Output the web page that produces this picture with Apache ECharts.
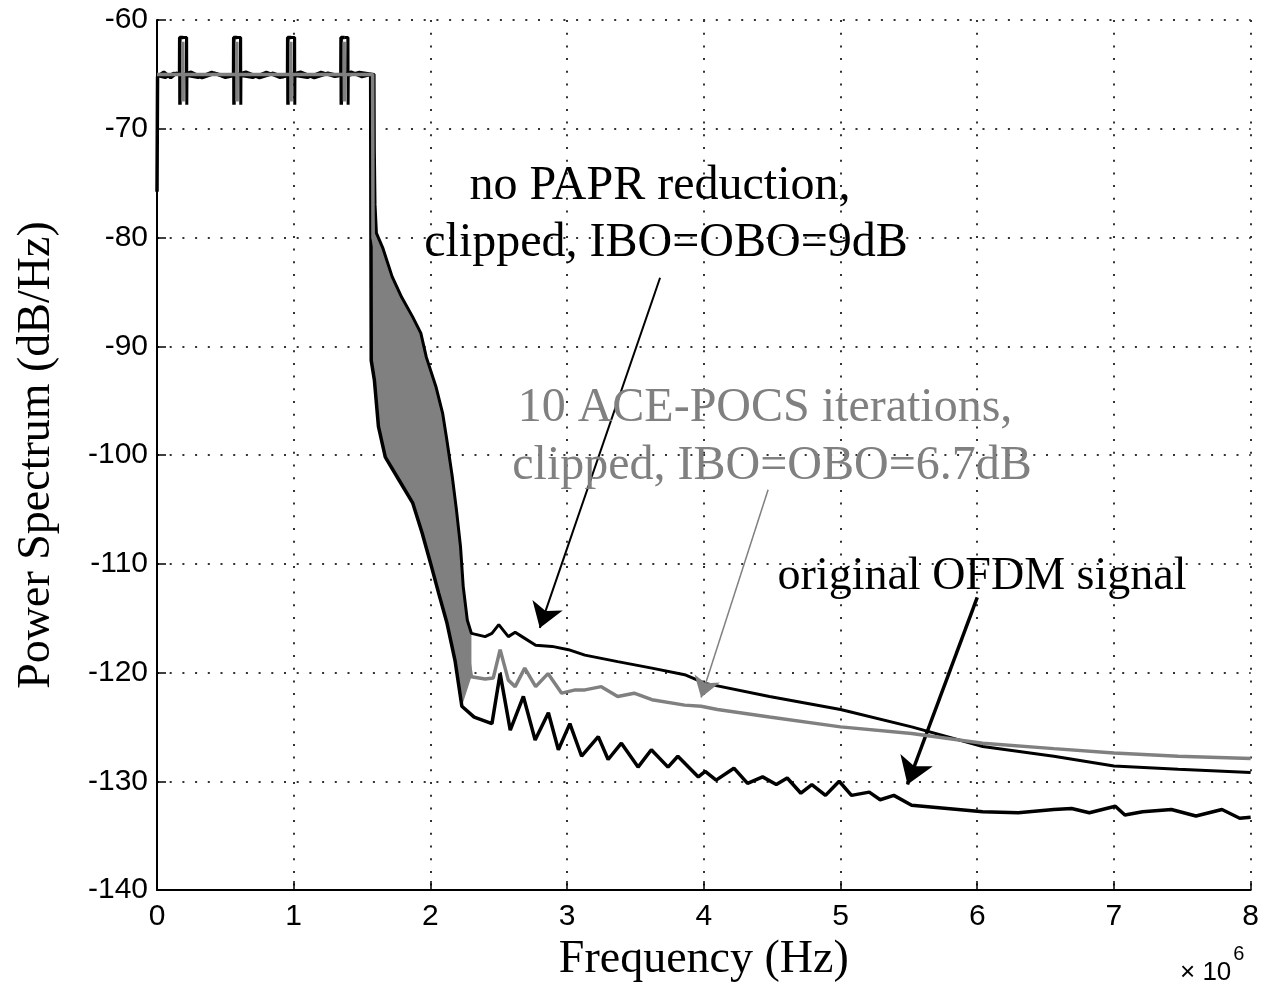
<!DOCTYPE html>
<html><head><meta charset="utf-8">
<script src="https://cdn.jsdelivr.net/npm/echarts@6/dist/echarts.min.js"></script>
<style>html,body{margin:0;padding:0;background:#fff}#c{width:1262px;height:988px}</style>
</head><body><div id="c"></div><script>
// x in units of 1e6 Hz, y in dB/Hz
const xTicks = [0,1,2,3,4,5,6,7,8];
const yTicks = [-140,-130,-120,-110,-100,-90,-80,-70,-60];

const originalOFDM = [
  [0,-75.8],[0.004,-65.2],[0.05,-64.8],[0.1,-65.3],[0.14,-64.9],
  [0.165,-65.0],[0.166,-61.6],[0.192,-61.6],[0.167,-61.6],[0.168,-67.8],[0.169,-65.1],
  [0.25,-64.8],[0.33,-65.3],[0.42,-64.9],[0.5,-65.2],
  [0.56,-65.0],[0.561,-61.6],[0.587,-61.6],[0.562,-61.6],[0.563,-67.8],[0.564,-65.1],
  [0.65,-64.8],[0.75,-65.3],[0.85,-64.9],[0.92,-65.2],
  [0.955,-65.0],[0.956,-61.6],[0.982,-61.6],[0.957,-61.6],[0.958,-67.8],[0.959,-65.1],
  [1.05,-64.8],[1.15,-65.3],[1.25,-64.9],[1.32,-65.1],
  [1.345,-65.0],[1.346,-61.6],[1.372,-61.6],[1.347,-61.6],[1.348,-67.8],[1.349,-65.1],
  [1.42,-64.8],[1.5,-65.2],[1.563,-65.0],
  [1.565,-80.0],[1.567,-91.3],[1.59,-93.1],[1.62,-97.4],[1.67,-100.2],[1.77,-102.3],
  [1.87,-104.4],[1.94,-107.2],[2.0,-109.9],[2.06,-112.7],[2.12,-115.4],[2.18,-118.9],
  [2.23,-123.1],[2.32,-124.1],[2.45,-124.7],[2.51,-120.1],[2.584,-125.3],[2.68,-122.2],
  [2.766,-126.2],[2.863,-123.7],[2.936,-127.1],[3.02,-124.7],[3.106,-127.7],[3.228,-125.9],
  [3.30,-128.0],[3.397,-126.5],[3.519,-128.7],[3.616,-127.1],[3.738,-128.7],[3.81,-127.7],
  [3.96,-129.6],[4.01,-129.1],[4.09,-129.9],[4.22,-128.8],[4.32,-130.2],[4.43,-129.6],
  [4.53,-130.3],[4.61,-129.7],[4.71,-131.1],[4.79,-130.3],[4.89,-131.3],[4.99,-130.0],
  [5.08,-131.3],[5.21,-131.0],[5.29,-131.7],[5.39,-131.3],[5.52,-132.2],[5.78,-132.5],
  [6.04,-132.8],[6.30,-132.9],[6.56,-132.6],[6.69,-132.5],[6.82,-132.9],[7.01,-132.3],
  [7.08,-133.1],[7.21,-132.8],[7.42,-132.6],[7.6,-133.2],[7.79,-132.6],[7.92,-133.4],[8.0,-133.3]
];

const noPAPRClipped = [
  [0,-65.1],[0.06,-65.3],[0.12,-64.9],
  [0.215,-65.0],[0.216,-61.6],[0.19,-61.6],[0.217,-61.6],[0.218,-67.8],[0.219,-65.1],
  [0.3,-65.3],[0.4,-64.8],[0.5,-65.3],
  [0.61,-65.0],[0.611,-61.6],[0.585,-61.6],[0.612,-61.6],[0.613,-67.8],[0.614,-65.1],
  [0.7,-65.3],[0.8,-64.8],[0.9,-65.3],
  [1.005,-65.0],[1.006,-61.6],[0.98,-61.6],[1.007,-61.6],[1.008,-67.8],[1.009,-65.1],
  [1.1,-65.3],[1.2,-64.8],[1.3,-65.2],
  [1.395,-65.0],[1.396,-61.6],[1.37,-61.6],[1.397,-61.6],[1.398,-67.8],[1.399,-65.1],
  [1.48,-64.8],[1.588,-65.0],
  [1.59,-72.0],[1.595,-77.0],[1.605,-79.6],[1.65,-80.9],[1.72,-83.6],[1.79,-85.5],
  [1.87,-87.3],[1.93,-88.8],[1.97,-91.0],[2.04,-93.7],[2.09,-96.2],[2.12,-98.6],
  [2.16,-102.0],[2.19,-105.0],[2.22,-108.4],[2.24,-112.1],[2.27,-115.2],[2.30,-116.4],
  [2.40,-116.7],[2.45,-116.4],[2.50,-115.6],[2.57,-116.7],[2.62,-116.3],[2.67,-116.7],
  [2.77,-117.5],[2.89,-117.6],[3.01,-117.9],[3.13,-118.4],[3.37,-119.0],[3.62,-119.6],
  [3.86,-120.2],[4.01,-121.0],[4.48,-122.2],[5.0,-123.4],[5.52,-125.0],[6.04,-126.8],
  [6.56,-127.7],[7.0,-128.6],[7.47,-128.9],[8.0,-129.2]
];

const acePocsClipped = [
  [0,-65.0],[0.1,-65.0],
  [0.188,-65.0],[0.189,-62.0],[0.191,-67.5],[0.192,-65.0],
  [0.3,-65.0],[0.45,-65.0],
  [0.583,-65.0],[0.584,-62.0],[0.586,-67.5],[0.587,-65.0],
  [0.75,-65.0],[0.9,-65.0],
  [0.978,-65.0],[0.979,-62.0],[0.981,-67.5],[0.982,-65.0],
  [1.15,-65.0],[1.3,-65.0],
  [1.368,-65.0],[1.369,-62.0],[1.371,-67.5],[1.372,-65.0],
  [1.5,-65.0],[1.5775,-65.0],
  [1.58,-80.0],[1.7,-88.0],[1.85,-95.0],[2.0,-103.0],[2.12,-110.0],[2.22,-115.0],
  [2.27,-118.0],[2.30,-120.4],[2.40,-120.6],[2.46,-120.5],[2.51,-117.9],[2.57,-120.7],
  [2.62,-121.3],[2.69,-119.6],[2.77,-121.3],[2.86,-120.1],[2.96,-121.9],[3.06,-121.6],
  [3.13,-121.6],[3.25,-121.3],[3.37,-122.2],[3.49,-121.9],[3.62,-122.5],[3.86,-123.0],
  [3.98,-123.1],[4.1,-123.4],[4.48,-124.1],[5.0,-125.0],[5.52,-125.6],[6.04,-126.5],
  [6.56,-127.0],[7.0,-127.4],[7.47,-127.7],[8.0,-127.9]
];

// annotation texts and arrows (arrow ends in data units)
const noteNoPAPR = ['no PAPR reduction,', 'clipped, IBO=OBO=9dB'];
const noteACE = ['10 ACE-POCS iterations,', 'clipped, IBO=OBO=6.7dB'];
const noteOrig = ['original OFDM signal'];
const arrowNoPAPR = [[3.68,-83.7],[2.80,-115.9]];
const arrowACE = [[4.47,-103.2],[3.98,-122.3]];
const arrowOrig = [[6.0,-113.1],[5.49,-130.3]];

const bandUpper = noPAPRClipped.filter(p => p[0] >= 1.585 && p[0] <= 2.30)
  .concat(acePocsClipped.filter(p => p[0] > 2.27 && p[0] <= 2.30));
const bandLower = originalOFDM.filter(p => p[0] >= 1.563 && p[0] <= 2.23);
const bandOutline = bandUpper.concat(bandLower.slice().reverse());

const chart = echarts.init(document.getElementById('c'), null, {renderer:'canvas'});
const GRAY = '#808080';
const serif = '"Liberation Serif", "Times New Roman", serif';
const sans = '"Liberation Sans", Arial, sans-serif';
const dotted = {type:[2,10.7], color:'#333', width:2};

function txt(x, y, s, color, size) {
  return {type:'text', x:x, y:y, silent:true, z:50,
    style:{text:s, fill:color, font:size + 'px ' + serif, textAlign:'center', textVerticalAlign:'middle'}};
}

chart.setOption({
  animation:false,
  backgroundColor:'#fff',
  grid:{left:157, right:7, top:20, bottom:98, containLabel:false},
  xAxis:{
    type:'value', min:0, max:8, interval:1,
    name:'Frequency (Hz)', nameLocation:'middle', nameGap:44,
    nameTextStyle:{fontFamily:serif, fontSize:46, color:'#000'},
    axisLine:{show:true, onZero:false, lineStyle:{color:'#000', width:2}},
    axisTick:{show:true, inside:true, length:9, lineStyle:{color:'#000', width:1.5}},
    axisLabel:{color:'#000', fontFamily:sans, fontSize:30, margin:12,
      formatter: v => xTicks.includes(v) ? String(v) : ''},
    splitLine:{show:true, lineStyle:dotted}
  },
  yAxis:{
    type:'value', min:-140, max:-60, interval:10,
    name:'Power Spectrum (dB/Hz)', nameLocation:'middle', nameGap:97,
    nameTextStyle:{fontFamily:serif, fontSize:46, color:'#000'},
    axisLine:{show:true, onZero:false, lineStyle:{color:'#000', width:2}},
    axisTick:{show:true, inside:true, length:9, lineStyle:{color:'#000', width:1.5}},
    axisLabel:{color:'#000', fontFamily:sans, fontSize:30, margin:9,
      formatter: v => yTicks.includes(v) ? String(v) : ''},
    splitLine:{show:true, lineStyle:dotted}
  },
  graphic:[
    txt(660,186,noteNoPAPR[0],'#000',48), txt(666,243,noteNoPAPR[1],'#000',48),
    txt(765,408,noteACE[0],GRAY,48), txt(772,466,noteACE[1],GRAY,48),
    txt(982,577,noteOrig[0],'#000',46),
    {type:'text', x:1180, y:986, silent:true,
      style:{text:'{a|× 10}{b|6}', textVerticalAlign:'bottom',
        rich:{a:{font:'26px ' + sans, fill:'#000', verticalAlign:'bottom'},
              b:{font:'20px ' + sans, fill:'#000', verticalAlign:'top', padding:[0,0,22,2]}}}}
  ],
  series:[
    {type:'custom', silent:true, z:1, clip:true,
      renderItem:function(params, api){
        const pts = bandOutline.map(p => api.coord([p[0], p[1]]));
        return {type:'polygon', shape:{points:pts}, style:{fill:GRAY, stroke:null}};
      },
      data:[[2,-100]]
    },
    {type:'line', name:'original', data:originalOFDM, showSymbol:false, z:3,
      lineStyle:{color:'#000', width:3.5}, clip:true,
      markLine:{silent:true, symbol:['none','arrow'], label:{show:false}, animation:false,
        data:[
          [{coord:arrowNoPAPR[0], symbolSize:0, lineStyle:{color:'#000', width:2, type:'solid'}},
           {coord:arrowNoPAPR[1], symbolSize:24}],
          [{coord:arrowACE[0], symbolSize:0, lineStyle:{color:GRAY, width:1.5, type:'solid'}},
           {coord:arrowACE[1], symbolSize:20}],
          [{coord:arrowOrig[0], symbolSize:0, lineStyle:{color:'#000', width:3.5, type:'solid'}},
           {coord:arrowOrig[1], symbolSize:26}]
        ]}
    },
    {type:'line', name:'noPAPR', data:noPAPRClipped, showSymbol:false, z:4,
      lineStyle:{color:'#000', width:3}, clip:true},
    {type:'line', name:'ACE', data:acePocsClipped, showSymbol:false, z:5,
      lineStyle:{color:GRAY, width:3.5}, clip:true}
  ]
});
</script></body></html>
